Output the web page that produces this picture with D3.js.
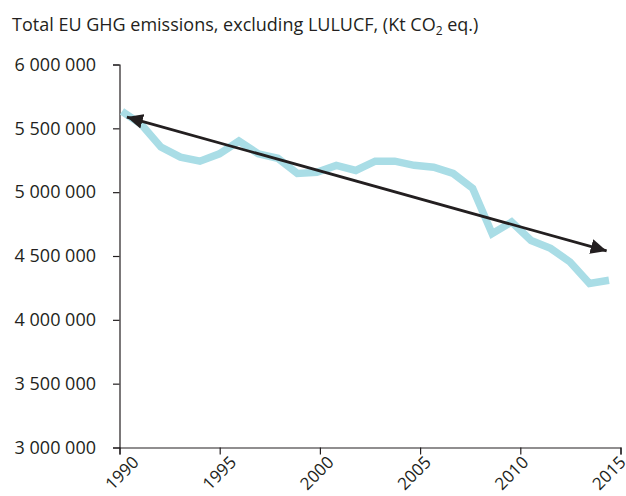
<!DOCTYPE html>
<html lang="en">
<head>
<meta charset="UTF-8">
<title>Total EU GHG emissions</title>
<style>
  body { margin: 0; background: #fff; }
  svg { display: block; font-family: 'Open Sans', sans-serif; }
  .axis path, .axis line { stroke: #231f20; stroke-width: 1.2; }
  .axis text { font-size: 18px; fill: #231f20; font-family: 'Open Sans', sans-serif; }
  .title { font-size: 18px; fill: #231f20; }
</style>
</head>
<body>
<svg id="chart" width="626" height="496"></svg>
<script src="https://d3js.org/d3.v7.min.js"></script>
<script>
// data
const years = d3.range(1990, 2016);
const emissions = [5632000, 5530000, 5353000, 5275000, 5243000, 5300000, 5400000, 5300000,
  5265000, 5147000, 5155000, 5210000, 5170000, 5243000, 5243000, 5210000, 5196000, 5147000,
  5030000, 4675000, 4766000, 4622000, 4560000, 4453000, 4285000, 4310000];
const xTicks = [1990, 1995, 2000, 2005, 2010, 2015];
const yTicks = [3000000, 3500000, 4000000, 4500000, 5000000, 5500000, 6000000];
// trend arrow, from 1990 to 2015 (year, value)
const trendArrow = [[1990.25, 5588000], [2014.88, 4540000]];

const svg = d3.select("#chart");

// axis scale and the (slightly inset) scale the series is drawn on
const xAxisScale = d3.scaleLinear().domain([1990, 2015]).range([119.5, 620.5]);
const x = d3.scaleLinear().domain([1990, 2015]).range([122, 609]);
const y = d3.scaleLinear().domain([3000000, 6000000]).range([447.5, 64.5]);

const fmt = d3.formatLocale({decimal: ".", thousands: "\u00a0", grouping: [3], currency: ["", ""]}).format(",");

svg.append("text")
  .attr("class", "title")
  .attr("x", 12)
  .attr("y", 31)
  .html('Total EU GHG emissions, excluding LULUCF, (Kt CO<tspan font-size="12" dy="4">2</tspan><tspan dy="-4"> eq.)</tspan>');

// y axis
svg.append("g")
  .attr("class", "axis")
  .attr("transform", "translate(119.5,0)")
  .call(d3.axisLeft(y).tickValues(yTicks).tickFormat(fmt).tickSize(6.5).tickPadding(17));

// x axis
svg.append("g")
  .attr("class", "axis")
  .attr("transform", "translate(0,447.5)")
  .call(d3.axisBottom(xAxisScale).tickValues(xTicks).tickFormat("").tickSize(7));

// labels sit on the series positions, rotated
svg.append("g")
  .selectAll("text")
  .data(xTicks)
  .join("text")
  .attr("transform", d => `translate(${x(d)},473) rotate(-45)`)
  .attr("text-anchor", "middle")
  .attr("dy", "0.35em")
  .style("font-size", "17px")
  .style("fill", "#231f20")
  .text(d => d);

// series line
const line = d3.line()
  .x((d, i) => x(years[i]))
  .y(d => y(d));

svg.append("path")
  .datum(emissions)
  .attr("d", line)
  .attr("fill", "none")
  .attr("stroke", "#a9dde6")
  .attr("stroke-width", 7.5)
  .attr("stroke-linejoin", "miter");

// arrow
const defs = svg.append("defs");
defs.append("marker")
  .attr("id", "head")
  .attr("markerUnits", "userSpaceOnUse")
  .attr("viewBox", "0 0 16 16")
  .attr("refX", 16)
  .attr("refY", 8)
  .attr("markerWidth", 16)
  .attr("markerHeight", 16)
  .attr("orient", "auto-start-reverse")
  .append("path")
  .attr("d", "M0,0.5L16,8L0,15.5Z")
  .attr("fill", "#231f20");

svg.append("line")
  .attr("x1", x(trendArrow[0][0]))
  .attr("y1", y(trendArrow[0][1]))
  .attr("x2", x(trendArrow[1][0]))
  .attr("y2", y(trendArrow[1][1]))
  .attr("stroke", "#231f20")
  .attr("stroke-width", 2.8)
  .attr("marker-start", "url(#head)")
  .attr("marker-end", "url(#head)");
</script>
</body>
</html>
